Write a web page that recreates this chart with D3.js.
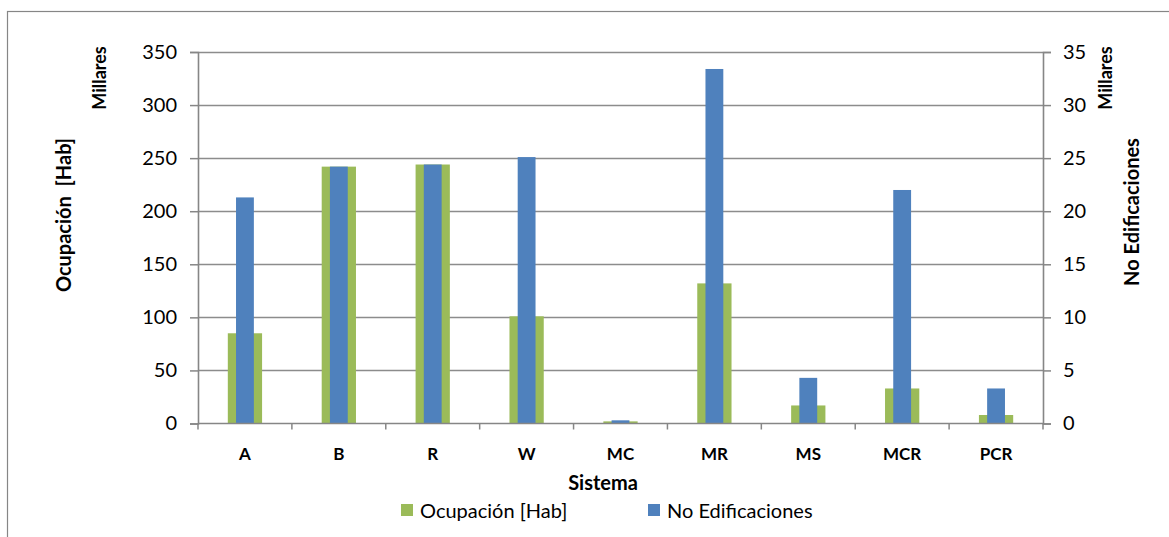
<!DOCTYPE html>
<html>
<head>
<meta charset="utf-8">
<script src="https://cdn.jsdelivr.net/npm/d3@7"></script>
<style>
  body { margin: 0; background: #fff; }
  text { font-family: Lato, "Open Sans", sans-serif; fill: #000; }
</style>
</head>
<body>
<svg id="chart" width="1169" height="537"></svg>
<script>
// datos (miles)
const sistemas = ['A', 'B', 'R', 'W', 'MC', 'MR', 'MS', 'MCR', 'PCR']
const ocupacion = [85, 242, 244, 101, 2, 132, 17, 33, 8]
const edificaciones = [21.3, 24.2, 24.4, 25.1, 0.3, 33.4, 4.3, 22, 3.3]
const ticksIzq = [0, 50, 100, 150, 200, 250, 300, 350]
const ticksDer = [0, 5, 10, 15, 20, 25, 30, 35]

const svg = d3.select('#chart')
const pLeft = 198, pRight = 1043, pTop = 52, pBottom = 423.5
const axisColor = '#868686'

// marco exterior (recortado a la derecha y abajo)
svg.append('rect')
  .attr('x', 7.5).attr('y', 11.5)
  .attr('width', 1300).attr('height', 700)
  .attr('fill', 'none')
  .attr('stroke', axisColor)
  .attr('stroke-width', 1.2)

const x = d3.scaleBand().domain(sistemas).range([pLeft, pRight])
const yL = d3.scaleLinear().domain([0, 350]).range([pBottom, pTop])
const yR = d3.scaleLinear().domain([0, 35]).range([pBottom, pTop])

// rejilla
svg.append('g')
  .selectAll('line')
  .data(ticksIzq.slice(1))
  .enter()
  .append('line')
  .attr('x1', pLeft).attr('x2', pRight)
  .attr('y1', d => Math.round(yL(d)) + 0.5)
  .attr('y2', d => Math.round(yL(d)) + 0.5)
  .attr('stroke', '#8c8c8c')
  .attr('stroke-width', 1.3)

// barras verdes (eje principal)
const gw = x.bandwidth() * 0.365
svg.append('g')
  .selectAll('rect')
  .data(ocupacion)
  .enter()
  .append('rect')
  .attr('x', (d, i) => x(sistemas[i]) + x.bandwidth() / 2 - gw / 2)
  .attr('width', gw)
  .attr('y', d => yL(d))
  .attr('height', d => yL(0) - yL(d))
  .attr('fill', '#9BBB59')

// barras azules (eje secundario)
const bw = x.bandwidth() * 0.19
svg.append('g')
  .selectAll('rect')
  .data(edificaciones)
  .enter()
  .append('rect')
  .attr('x', (d, i) => x(sistemas[i]) + x.bandwidth() / 2 - bw / 2)
  .attr('width', bw)
  .attr('y', d => yR(d))
  .attr('height', d => yR(0) - yR(d))
  .attr('fill', '#4F81BD')

// ejes
const axL = svg.append('g')
  .attr('transform', 'translate(' + pLeft + ',0)')
  .call(d3.axisLeft(yL).tickValues(ticksIzq).tickSize(8).tickPadding(13))
const axR = svg.append('g')
  .attr('transform', 'translate(' + pRight + ',0)')
  .call(d3.axisRight(yR).tickValues(ticksDer).tickSize(8).tickPadding(12))
const axB = svg.append('g')
  .attr('transform', 'translate(0,' + pBottom + ')')
  .call(d3.axisBottom(x).tickSize(0).tickPadding(24))
// marcas entre categorias
axB.selectAll('.sep')
  .data(d3.range(sistemas.length + 1))
  .enter()
  .append('line')
  .attr('x1', i => pLeft + i * x.step())
  .attr('x2', i => pLeft + i * x.step())
  .attr('y1', 0).attr('y2', 6)
  .attr('stroke', axisColor)
  .attr('stroke-width', 1.5)

;[axL, axR, axB].forEach(g => {
  g.select('.domain').attr('stroke', axisColor).attr('stroke-width', 1.6)
  g.selectAll('.tick line').attr('stroke', axisColor).attr('stroke-width', 1.5)
})
axL.selectAll('.tick text').attr('font-size', 20).attr('font-family', 'Lato')
axR.selectAll('.tick text').attr('font-size', 20).attr('font-family', 'Lato')
axB.selectAll('.tick text').attr('font-size', 17).attr('font-weight', 'bold').attr('font-family', 'Lato')
axB.select('.domain').attr('d', 'M' + pLeft + ',0H' + pRight)

// titulos
function vtitulo(tx, ty, txt, size) {
  svg.append('text')
    .attr('transform', 'translate(' + tx + ',' + ty + ') rotate(-90)')
    .attr('text-anchor', 'middle')
    .attr('font-size', size)
    .attr('font-weight', 'bold')
    .style('white-space', 'pre')
    .text(txt)
}
vtitulo(71, 215, 'Ocupación  [Hab]', 20)
vtitulo(106, 78, 'Millares', 18)
vtitulo(1112, 78, 'Millares', 18)
vtitulo(1139, 212, 'No Edificaciones', 20)

svg.append('text')
  .attr('x', 603).attr('y', 490)
  .attr('text-anchor', 'middle')
  .attr('font-size', 20)
  .attr('font-weight', 'bold')
  .text('Sistema')

// leyenda
const leyenda = [
  { name: 'Ocupación [Hab]', color: '#9BBB59', x: 401 },
  { name: 'No Edificaciones', color: '#4F81BD', x: 648 }
]
const lg = svg.append('g').selectAll('g')
  .data(leyenda)
  .enter()
  .append('g')
  .attr('transform', d => 'translate(' + d.x + ',504)')
lg.append('rect')
  .attr('width', 12).attr('height', 12)
  .attr('fill', d => d.color)
lg.append('text')
  .attr('x', 19).attr('y', 14)
  .attr('font-size', 20)
  .text(d => d.name)
</script>
</body>
</html>
